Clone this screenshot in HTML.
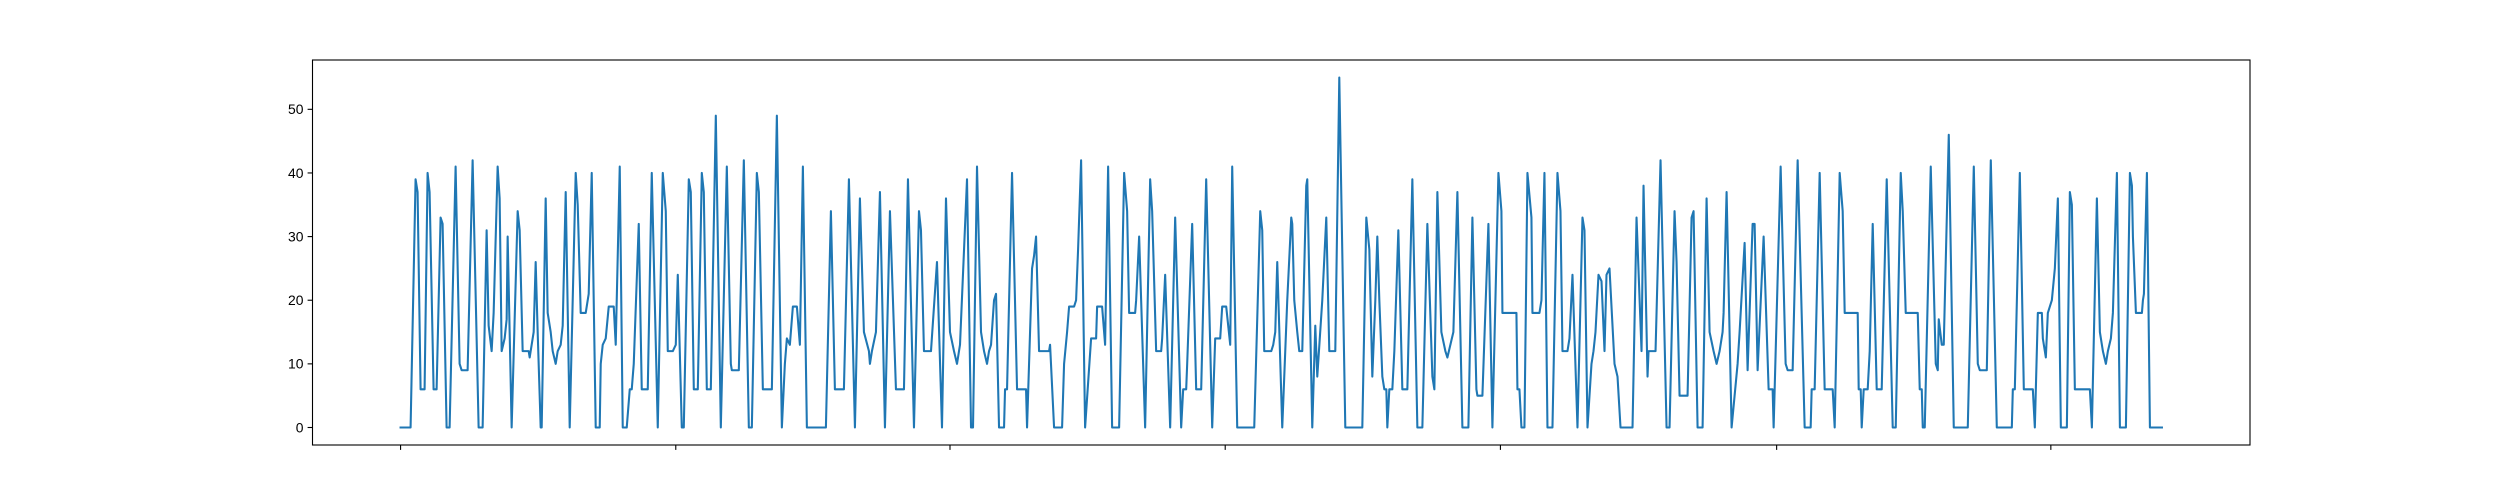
<!DOCTYPE html>
<html><head><meta charset="utf-8"><style>
html,body{margin:0;padding:0;background:#fff;}
svg{display:block;font-family:"Liberation Sans","DejaVu Sans",sans-serif;}
</style></head><body>
<svg id="chart" width="2500" height="500" viewBox="0 0 2500 500" xmlns="http://www.w3.org/2000/svg">
<rect width="2500" height="500" fill="#fff"/>
<g id="plot"></g>
</svg>
<script>
const times = [
0,10,15,17,20,24,27,29,33,36,
40,42,46,49,55,59,61,67,72,78,
82,86,88,91,93,97,99,101,104,106,
107,111,117,119,122,128,129,131,133,135,
137,140,141,145,147,150,152,155,157,160,
162,165,169,175,177,180,185,186,188,191,
195,199,200,202,205,208,213,215,219,222,
226,229,231,233,238,241,247,251,257,262,
265,267,272,275,277,281,283,288,290,293,
297,301,303,306,310,315,320,326,330,331,
338,343,348,351,356,358,362,371,376,381,
384,386,389,392,396,399,402,406,425,430,
434,443,448,454,459,463,468,469,471,475,
479,484,489,495,503,507,513,518,520,523,
530,536,541,545,549,553,556,559,566,570,
572,576,580,583,586,588,590,593,595,598,
603,604,606,611,616,625,626,631,633,635,
638,648,649,653,661,663,666,668,673,675,
677,680,684,690,695,696,701,704,707,711,
718,723,726,728,734,735,738,744,749,751,
755,760,761,764,769,774,780,782,785,786,
791,795,800,805,811,814,819,821,825,829,
831,836,853,859,861,863,870,872,874,876,
881,886,890,891,893,896,898,901,905,906,
911,914,916,921,925,928,934,938,944,961,
965,968,971,974,976,978,981,983,985,986,
988,991,993,997,1001,1006,1011,1016,1021,1026,
1031,1033,1036,1040,1044,1046,1049,1052,1056,1061,
1067,1071,1075,1076,1081,1087,1091,1097,1100,1101,
1115,1116,1118,1120,1123,1126,1130,1131,1138,1140,
1143,1146,1151,1156,1159,1161,1166,1168,1171,1176,
1181,1183,1186,1190,1192,1194,1197,1200,1203,1205,
1208,1213,1216,1219,1231,1235,1240,1242,1246,1247,
1254,1259,1265,1268,1273,1275,1278,1286,1290,1292,
1296,1301,1305,1308,1312,1315,1318,1321,1322,1325,
1330,1336,1338,1343,1346,1351,1353,1356,1362,1367,
1371,1372,1379,1384,1386,1391,1396,1403,1409,1410,
1413,1418,1423,1431,1433,1438,1441,1443,1456,1457,
1459,1460,1462,1466,1468,1471,1475,1480,1485,1491,
1494,1499,1501,1504,1516,1518,1520,1521,1523,1529,
1534,1536,1537,1540,1542,1547,1552,1566,1572,1576,
1578,1585,1589,1595,1610,1611,1613,1618,1622,1631,
1633,1636,1640,1641,1644,1646,1650,1653,1656,1659,
1665,1668,1670,1673,1688,1690,1695,1698,1701,1704,
1706,1709,1711,1715,1718,1724,1728,1730,1731,1734,
1740,1741,1742,1745,1748,1760
];
const values = [
0,0,39,37,6,6,40,37,6,6,
33,32,0,0,41,10,9,9,42,0,
0,31,16,12,18,41,36,12,14,17,
30,0,34,31,12,12,11,13,15,26,
15,0,0,36,18,15,12,10,12,13,
16,37,0,40,35,18,18,19,21,40,
0,0,10,13,14,19,19,13,41,0,
0,6,6,10,32,6,6,40,0,40,
34,12,12,13,24,0,0,39,37,6,
6,40,37,6,6,49,0,41,10,9,
9,42,0,0,40,37,6,6,49,0,
10,14,13,19,19,13,41,0,0,34,
6,6,39,0,36,15,12,10,12,15,
37,0,34,6,6,39,0,34,31,12,
12,26,0,36,15,12,10,13,39,0,
0,41,15,12,10,12,13,20,21,0,
0,6,6,40,6,6,0,25,27,30,
12,12,13,0,0,10,15,19,19,20,
28,42,0,14,14,19,19,13,41,0,
0,40,34,18,18,20,30,0,39,34,
12,12,14,24,0,33,0,6,6,10,
32,6,6,39,0,14,14,19,19,13,
41,0,0,34,31,12,12,13,15,26,
0,20,33,32,20,15,12,12,38,39,
0,16,8,20,33,12,12,55,0,0,
33,28,8,20,30,20,8,6,6,0,
6,6,12,31,6,6,39,0,0,32,
8,6,37,15,12,11,13,15,37,0,
0,33,6,5,5,32,0,40,34,18,
18,6,6,0,0,40,33,18,18,20,
40,0,0,40,34,12,12,14,24,0,
33,31,0,10,12,15,24,23,12,24,
25,10,8,0,0,33,12,38,8,12,
12,42,0,0,34,26,5,5,33,34,
0,0,36,15,12,10,12,15,18,37,
0,10,15,29,9,32,32,9,30,6,
6,0,41,10,9,9,42,0,0,6,
6,40,6,6,0,40,34,18,18,6,
6,0,6,6,12,32,6,6,39,0,
0,40,34,18,18,6,6,0,0,41,
10,9,17,13,13,46,0,0,41,10,
9,9,42,0,0,6,6,40,6,6,
0,18,18,14,11,18,20,25,36,0,
0,37,35,6,6,0,36,15,12,10,
12,14,18,40,0,0,40,38,30,18,
18,20,21,40,0,0
];
const xTicks = [0,275,549,824,1099,1375,1649];
const yTicks = [0,10,20,30,40,50];
const yTickLabels = ["0","10","20","30","40","50"];

const NS = "http://www.w3.org/2000/svg";
const L = 312.5, R = 2250, T = 60, B = 445;
const n = Math.min(times.length, values.length);
const tMin = Math.min(...times.slice(0,n)), tMax = Math.max(...times.slice(0,n));
const vMin = Math.min(0, ...values.slice(0,n)), vMax = Math.max(...values.slice(0,n));
const tPad = (tMax - tMin) * 0.05, vPad = (vMax - vMin) * 0.05;
function xs(t){ return L + (t - (tMin - tPad)) / ((tMax + tPad) - (tMin - tPad)) * (R - L); }
function ys(v){ return B - (v - (vMin - vPad)) / ((vMax + vPad) - (vMin - vPad)) * (B - T); }

const plot = document.getElementById('plot');
function mk(tag, attrs){ const e = document.createElementNS(NS, tag); for (const k in attrs) e.setAttribute(k, attrs[k]); return e; }

let d = "";
for (let i = 0; i < n; i++) d += (i ? "L" : "M") + xs(times[i]).toFixed(2) + "," + ys(values[i]).toFixed(2);
const line = mk('path', {d: d, fill: 'none', stroke: '#1f77b4', 'stroke-width': 2.08, 'stroke-linejoin': 'round', 'stroke-linecap': 'square'});


plot.appendChild(line);

const frame = mk('rect', {x: L, y: T, width: R - L, height: B - T, fill: 'none', stroke: '#000', 'stroke-width': 1.1});


plot.appendChild(frame);

xTicks.forEach(function(t){
  const x = xs(t);
  const tk = mk('line', {x1: x, x2: x, y1: B, y2: B + 4.9, stroke: '#000', 'stroke-width': 1.1});
  
  
  plot.appendChild(tk);
});

yTicks.forEach(function(v, i){
  const y = ys(v);
  const tk = mk('line', {x1: L - 4.9, x2: L, y1: y, y2: y, stroke: '#000', 'stroke-width': 1.1});
  
  
  plot.appendChild(tk);
  const lb = mk('text', {x: L - 9, y: y + 4.8, 'text-anchor': 'end', 'font-size': 13.9, fill: '#000'});
  lb.textContent = yTickLabels[i];
  
  
  plot.appendChild(lb);
});
</script>
</body></html>
